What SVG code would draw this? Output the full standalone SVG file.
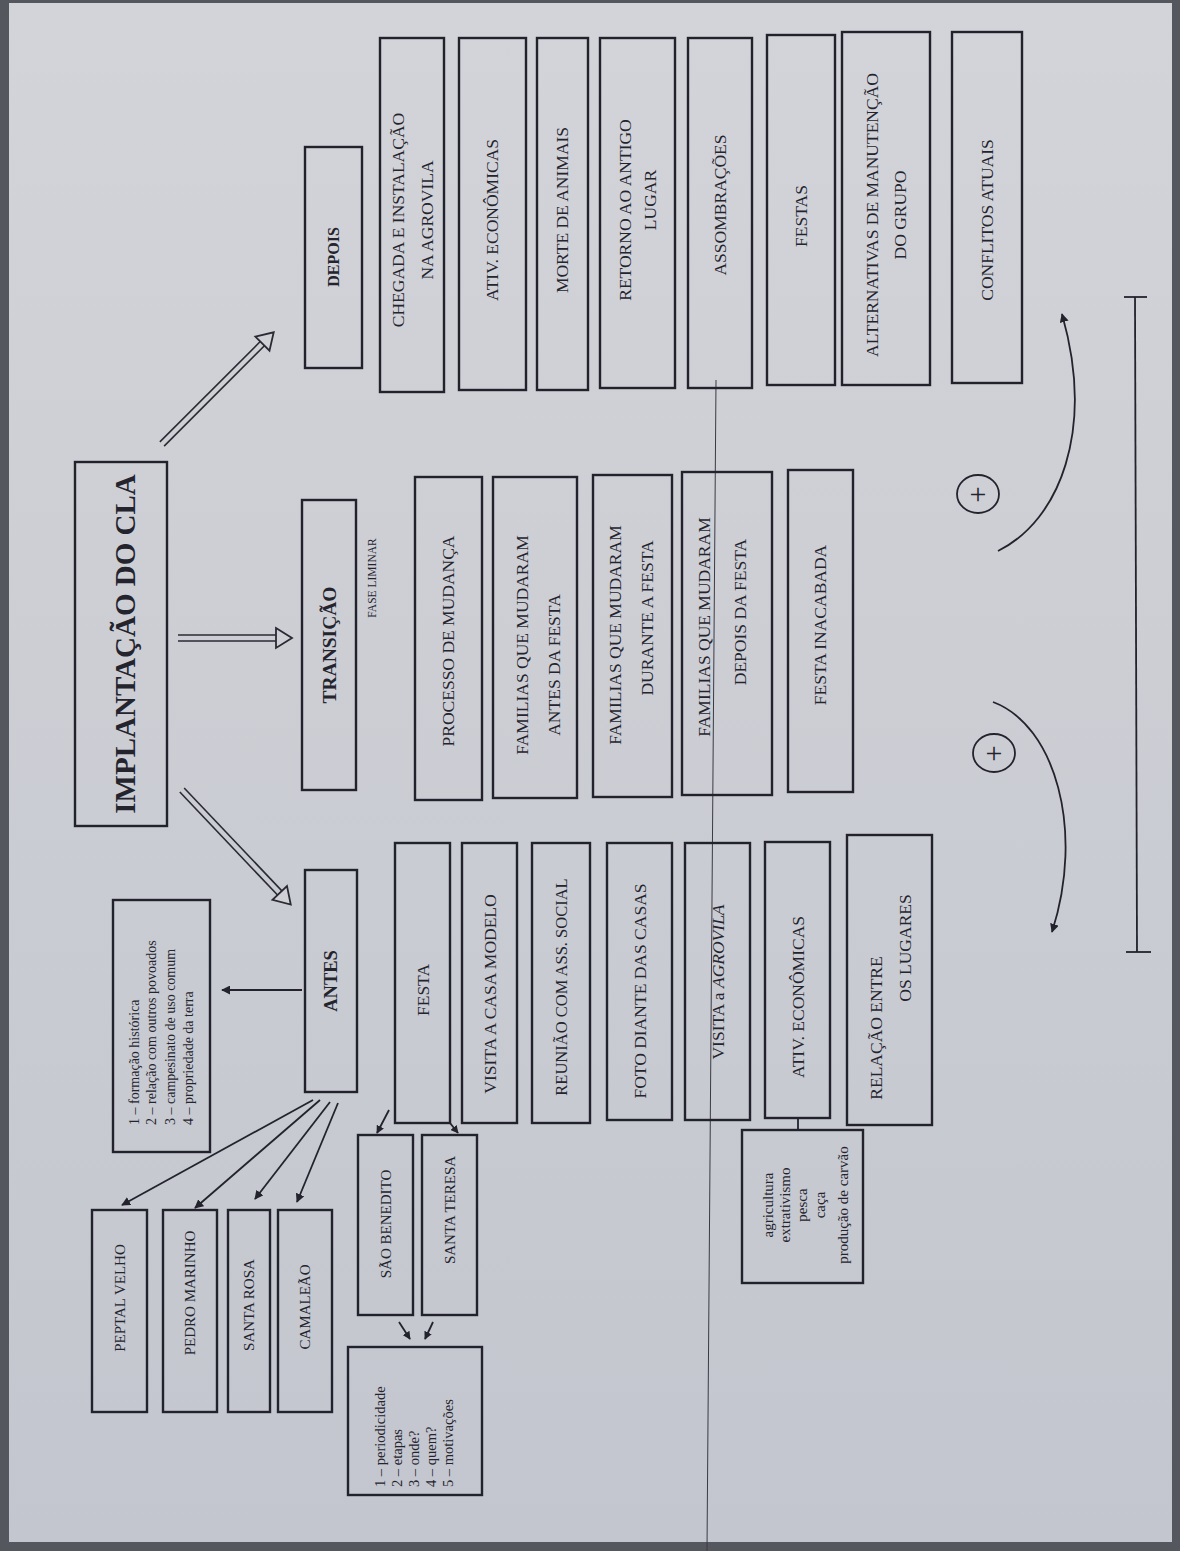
<svg xmlns="http://www.w3.org/2000/svg" width="1180" height="1551" viewBox="0 0 1180 1551">
<defs>
<linearGradient id="paper" x1="0" y1="0" x2="0" y2="1">
<stop offset="0" stop-color="#d3d4d9"/>
<stop offset="1" stop-color="#c3c6ce"/>
</linearGradient>
<marker id="ah" viewBox="0 0 10 10" refX="9" refY="5" markerWidth="9" markerHeight="9" markerUnits="userSpaceOnUse" orient="auto">
<path d="M0,0 L10,5 L0,10 z" fill="#23232d"/>
</marker>
<marker id="ahs" viewBox="0 0 10 10" refX="9" refY="5" markerWidth="8" markerHeight="8" markerUnits="userSpaceOnUse" orient="auto">
<path d="M0,0 L10,5 L0,10 z" fill="#23232d"/>
</marker>
</defs>
<style>
.box{fill:none;stroke:#22222c;stroke-width:2.4}
.t{font-family:"Liberation Serif","Times New Roman",serif;font-size:17.5px;fill:#24242e;text-anchor:middle}
.b{font-weight:bold}
.m{font-size:15px}
.s{font-family:"Liberation Serif","Times New Roman",serif;font-size:14px;fill:#24242e;text-anchor:start}
.c{stroke:#23232d;stroke-width:1.8;fill:none}
.dl{stroke:#2a2a34;stroke-width:1.6;fill:none}
.hd{stroke:#2a2a34;stroke-width:1.8;fill:#cfd1d6;stroke-linejoin:miter}
</style>
<rect x="0" y="0" width="1180" height="1551" fill="#55575f"/>
<rect x="9" y="3" width="1163" height="1539" fill="url(#paper)"/>
<line x1="716" y1="380" x2="707" y2="1551" stroke="#3a3a44" stroke-width="1"/>

<g id="connectors">
<g transform="translate(162,444) rotate(-45)">
<line class="dl" x1="0" y1="-3" x2="144" y2="-3"/><line class="dl" x1="0" y1="3" x2="144" y2="3"/>
<path class="hd" d="M142,-10 L158,0 L142,10 Z"/>
</g>
<g transform="translate(178,638)">
<line class="dl" x1="0" y1="-3" x2="100" y2="-3"/><line class="dl" x1="0" y1="3" x2="100" y2="3"/>
<path class="hd" d="M98,-10 L114,0 L98,10 Z"/>
</g>
<g transform="translate(182,790) rotate(46.5)">
<line class="dl" x1="0" y1="-3" x2="144" y2="-3"/><line class="dl" x1="0" y1="3" x2="144" y2="3"/>
<path class="hd" d="M142,-10 L158,0 L142,10 Z"/>
</g>
<line class="c" x1="302" y1="990" x2="222" y2="990" marker-end="url(#ah)"/>
<line class="c" x1="313" y1="1100" x2="122" y2="1205" marker-end="url(#ah)"/>
<line class="c" x1="320" y1="1100" x2="195" y2="1208" marker-end="url(#ah)"/>
<line class="c" x1="330" y1="1102" x2="255" y2="1199" marker-end="url(#ah)"/>
<line class="c" x1="338" y1="1103" x2="297" y2="1202" marker-end="url(#ah)"/>
<line class="c" x1="389" y1="1110" x2="377" y2="1133" marker-end="url(#ahs)"/>
<line class="c" x1="450" y1="1123" x2="458" y2="1133" marker-end="url(#ahs)"/>
<line class="c" x1="399" y1="1322" x2="410" y2="1339" marker-end="url(#ahs)"/>
<line class="c" x1="433" y1="1322" x2="425" y2="1339" marker-end="url(#ahs)"/>
<line class="c" x1="798" y1="1118" x2="798" y2="1130"/>
<path class="c" d="M998,551 C1060,520 1095,430 1062,314" marker-end="url(#ah)"/>
<path class="c" d="M993,702 C1055,725 1085,830 1052,932" marker-end="url(#ah)"/>
<line class="c" x1="1135" y1="297" x2="1137" y2="952"/>
<line class="c" x1="1124" y1="297" x2="1147" y2="297"/>
<line class="c" x1="1126" y1="952" x2="1151" y2="952"/>
</g>

<g id="plus1"><ellipse cx="978" cy="494" rx="21" ry="19" class="c"/><text class="t" style="font-size:30px" x="978" y="504">+</text></g>
<g id="plus2"><ellipse cx="994" cy="753" rx="21" ry="19" class="c"/><text class="t" style="font-size:30px" x="994" y="763">+</text></g>

<g id="implantacao"><rect class="box" x="75" y="462" width="92" height="364"/>
<text class="t b" style="font-size:29px" transform="translate(125,644) rotate(-90)" dy="0.35em">IMPLANTAÇÃO DO CLA</text></g>

<g id="depois"><rect class="box" x="305" y="147" width="57" height="221"/>
<text class="t b" style="font-size:16px" transform="translate(333,257) rotate(-90)" dy="0.35em">DEPOIS</text></g>
<g id="transicao"><rect class="box" x="302" y="500" width="54" height="290"/>
<text class="t b" style="font-size:19.5px" transform="translate(329,645) rotate(-90)" dy="0.35em">TRANSIÇÃO</text>
<text class="t" style="font-size:11.5px" transform="translate(372,578) rotate(-90)" dy="0.35em">FASE LIMINAR</text></g>
<g id="antes"><rect class="box" x="305" y="870" width="52" height="222"/>
<text class="t b" style="font-size:18.5px" transform="translate(331,981) rotate(-90)" dy="0.35em">ANTES</text></g>

<g id="d1"><rect class="box" x="380" y="38" width="64" height="354"/>
<text class="t" transform="translate(412,220) rotate(-90)"><tspan x="0" y="-14.5" dy="0.35em">CHEGADA E INSTALAÇÃO</tspan><tspan x="0" y="14.5" dy="0.35em">NA AGROVILA</tspan></text></g>
<g id="d2"><rect class="box" x="459" y="38" width="67" height="352"/>
<text class="t" transform="translate(492,220) rotate(-90)" dy="0.35em">ATIV. ECONÔMICAS</text></g>
<g id="d3"><rect class="box" x="537" y="38" width="51" height="352"/>
<text class="t" transform="translate(562,210) rotate(-90)" dy="0.35em">MORTE DE ANIMAIS</text></g>
<g id="d4"><rect class="box" x="600" y="38" width="75" height="350"/>
<text class="t" transform="translate(637,210) rotate(-90)"><tspan x="0" y="-12.5" dy="0.35em">RETORNO AO ANTIGO</tspan><tspan x="10" y="12.5" dy="0.35em">LUGAR</tspan></text></g>
<g id="d5"><rect class="box" x="688" y="38" width="64" height="350"/>
<text class="t" transform="translate(720,205) rotate(-90)" dy="0.35em">ASSOMBRAÇÕES</text></g>
<g id="d6"><rect class="box" x="767" y="35" width="68" height="350"/>
<text class="t" transform="translate(801,216) rotate(-90)" dy="0.35em">FESTAS</text></g>
<g id="d7"><rect class="box" x="842" y="32" width="88" height="353"/>
<text class="t" transform="translate(886,215) rotate(-90)"><tspan x="0" y="-14" dy="0.35em">ALTERNATIVAS DE MANUTENÇÃO</tspan><tspan x="0" y="14" dy="0.35em">DO GRUPO</tspan></text></g>
<g id="d8"><rect class="box" x="952" y="32" width="70" height="351"/>
<text class="t" transform="translate(987,220) rotate(-90)" dy="0.35em">CONFLITOS ATUAIS</text></g>

<g id="t1"><rect class="box" x="415" y="477" width="67" height="323"/>
<text class="t" transform="translate(448,641) rotate(-90)" dy="0.35em">PROCESSO DE MUDANÇA</text></g>
<g id="t2"><rect class="box" x="493" y="477" width="84" height="321"/>
<text class="t" transform="translate(538,645) rotate(-90)"><tspan x="0" y="-16" dy="0.35em">FAMILIAS QUE MUDARAM</tspan><tspan x="-20" y="16" dy="0.35em">ANTES DA  FESTA</tspan></text></g>
<g id="t3"><rect class="box" x="593" y="475" width="79" height="322"/>
<text class="t" transform="translate(631,635) rotate(-90)"><tspan x="0" y="-16" dy="0.35em">FAMILIAS QUE MUDARAM</tspan><tspan x="17" y="16" dy="0.35em">DURANTE A FESTA</tspan></text></g>
<g id="t4"><rect class="box" x="682" y="472" width="90" height="323"/>
<text class="t" transform="translate(722,627) rotate(-90)"><tspan x="0" y="-18" dy="0.35em">FAMILIAS QUE MUDARAM</tspan><tspan x="15" y="18" dy="0.35em">DEPOIS DA FESTA</tspan></text></g>
<g id="t5"><rect class="box" x="788" y="470" width="65" height="322"/>
<text class="t" transform="translate(820,625) rotate(-90)" dy="0.35em">FESTA INACABADA</text></g>

<g id="a1"><rect class="box" x="395" y="843" width="55" height="280"/>
<text class="t" transform="translate(423,990) rotate(-90)" dy="0.35em">FESTA</text></g>
<g id="a2"><rect class="box" x="462" y="843" width="55" height="280"/>
<text class="t" transform="translate(490,994) rotate(-90)" dy="0.35em">VISITA A CASA  MODELO</text></g>
<g id="a3"><rect class="box" x="532" y="843" width="58" height="280"/>
<text class="t" style="font-size:16.5px" transform="translate(561,987) rotate(-90)" dy="0.35em">REUNIÃO COM ASS. SOCIAL</text></g>
<g id="a4"><rect class="box" x="607" y="843" width="65" height="277"/>
<text class="t" transform="translate(640,991) rotate(-90)" dy="0.35em">FOTO DIANTE  DAS CASAS</text></g>
<g id="a5"><rect class="box" x="685" y="843" width="65" height="277"/>
<text class="t" transform="translate(718,982) rotate(-90)" dy="0.35em">VISITA a <tspan font-style="italic">AGROVILA</tspan></text></g>
<g id="a6"><rect class="box" x="765" y="842" width="65" height="276"/>
<text class="t" transform="translate(798,997) rotate(-90)" dy="0.35em">ATIV. ECONÔMICAS</text></g>
<g id="a7"><rect class="box" x="847" y="835" width="85" height="290"/>
<text class="t" transform="translate(890,988) rotate(-90)"><tspan x="-40" y="-14" dy="0.35em">RELAÇÃO ENTRE</tspan><tspan x="40" y="15" dy="0.35em">OS LUGARES</tspan></text></g>

<g id="sub"><rect class="box" x="742" y="1130" width="121" height="153"/>
<text class="t m" transform="translate(768,1205) rotate(-90)" dy="0.35em">agricultura</text>
<text class="t m" transform="translate(785,1205) rotate(-90)" dy="0.35em">extrativismo</text>
<text class="t m" transform="translate(802,1205) rotate(-90)" dy="0.35em">pesca</text>
<text class="t m" transform="translate(820,1205) rotate(-90)" dy="0.35em">caça</text>
<text class="t m" transform="translate(843,1205) rotate(-90)" dy="0.35em">produção de carvão</text></g>

<g id="info"><rect class="box" x="113" y="900" width="97" height="252"/>
<text class="s" transform="translate(134,1125) rotate(-90)" dy="0.35em">1 – formação histórica</text>
<text class="s" transform="translate(151,1125) rotate(-90)" dy="0.35em">2 – relação com outros povoados</text>
<text class="s" transform="translate(170,1125) rotate(-90)" dy="0.35em">3 – campesinato de uso comum</text>
<text class="s" transform="translate(188,1125) rotate(-90)" dy="0.35em">4 – propriedade da terra</text></g>

<g id="p1"><rect class="box" x="92" y="1210" width="55" height="202"/>
<text class="t m" transform="translate(120,1298) rotate(-90)" dy="0.35em">PEPTAL VELHO</text></g>
<g id="p2"><rect class="box" x="163" y="1210" width="54" height="202"/>
<text class="t m" transform="translate(190,1293) rotate(-90)" dy="0.35em">PEDRO MARINHO</text></g>
<g id="p3"><rect class="box" x="228" y="1210" width="42" height="202"/>
<text class="t m" transform="translate(249,1305) rotate(-90)" dy="0.35em">SANTA ROSA</text></g>
<g id="p4"><rect class="box" x="278" y="1210" width="54" height="202"/>
<text class="t m" transform="translate(305,1307) rotate(-90)" dy="0.35em">CAMALEÃO</text></g>

<g id="sb"><rect class="box" x="358" y="1135" width="55" height="180"/>
<text class="t m" transform="translate(386,1224) rotate(-90)" dy="0.35em">SÃO BENEDITO</text></g>
<g id="st"><rect class="box" x="422" y="1135" width="55" height="180"/>
<text class="t m" transform="translate(450,1210) rotate(-90)" dy="0.35em">SANTA TERESA</text></g>

<g id="list"><rect class="box" x="348" y="1347" width="134" height="148"/>
<text class="s" style="font-size:14.5px" transform="translate(380,1487) rotate(-90)" dy="0.35em">1 – periodicidade</text>
<text class="s" style="font-size:14.5px" transform="translate(397,1487) rotate(-90)" dy="0.35em">2 – etapas</text>
<text class="s" style="font-size:14.5px" transform="translate(414,1487) rotate(-90)" dy="0.35em">3 – onde?</text>
<text class="s" style="font-size:14.5px" transform="translate(431,1487) rotate(-90)" dy="0.35em">4 – quem?</text>
<text class="s" style="font-size:14.5px" transform="translate(448,1487) rotate(-90)" dy="0.35em">5 – motivações</text></g>
</svg>
